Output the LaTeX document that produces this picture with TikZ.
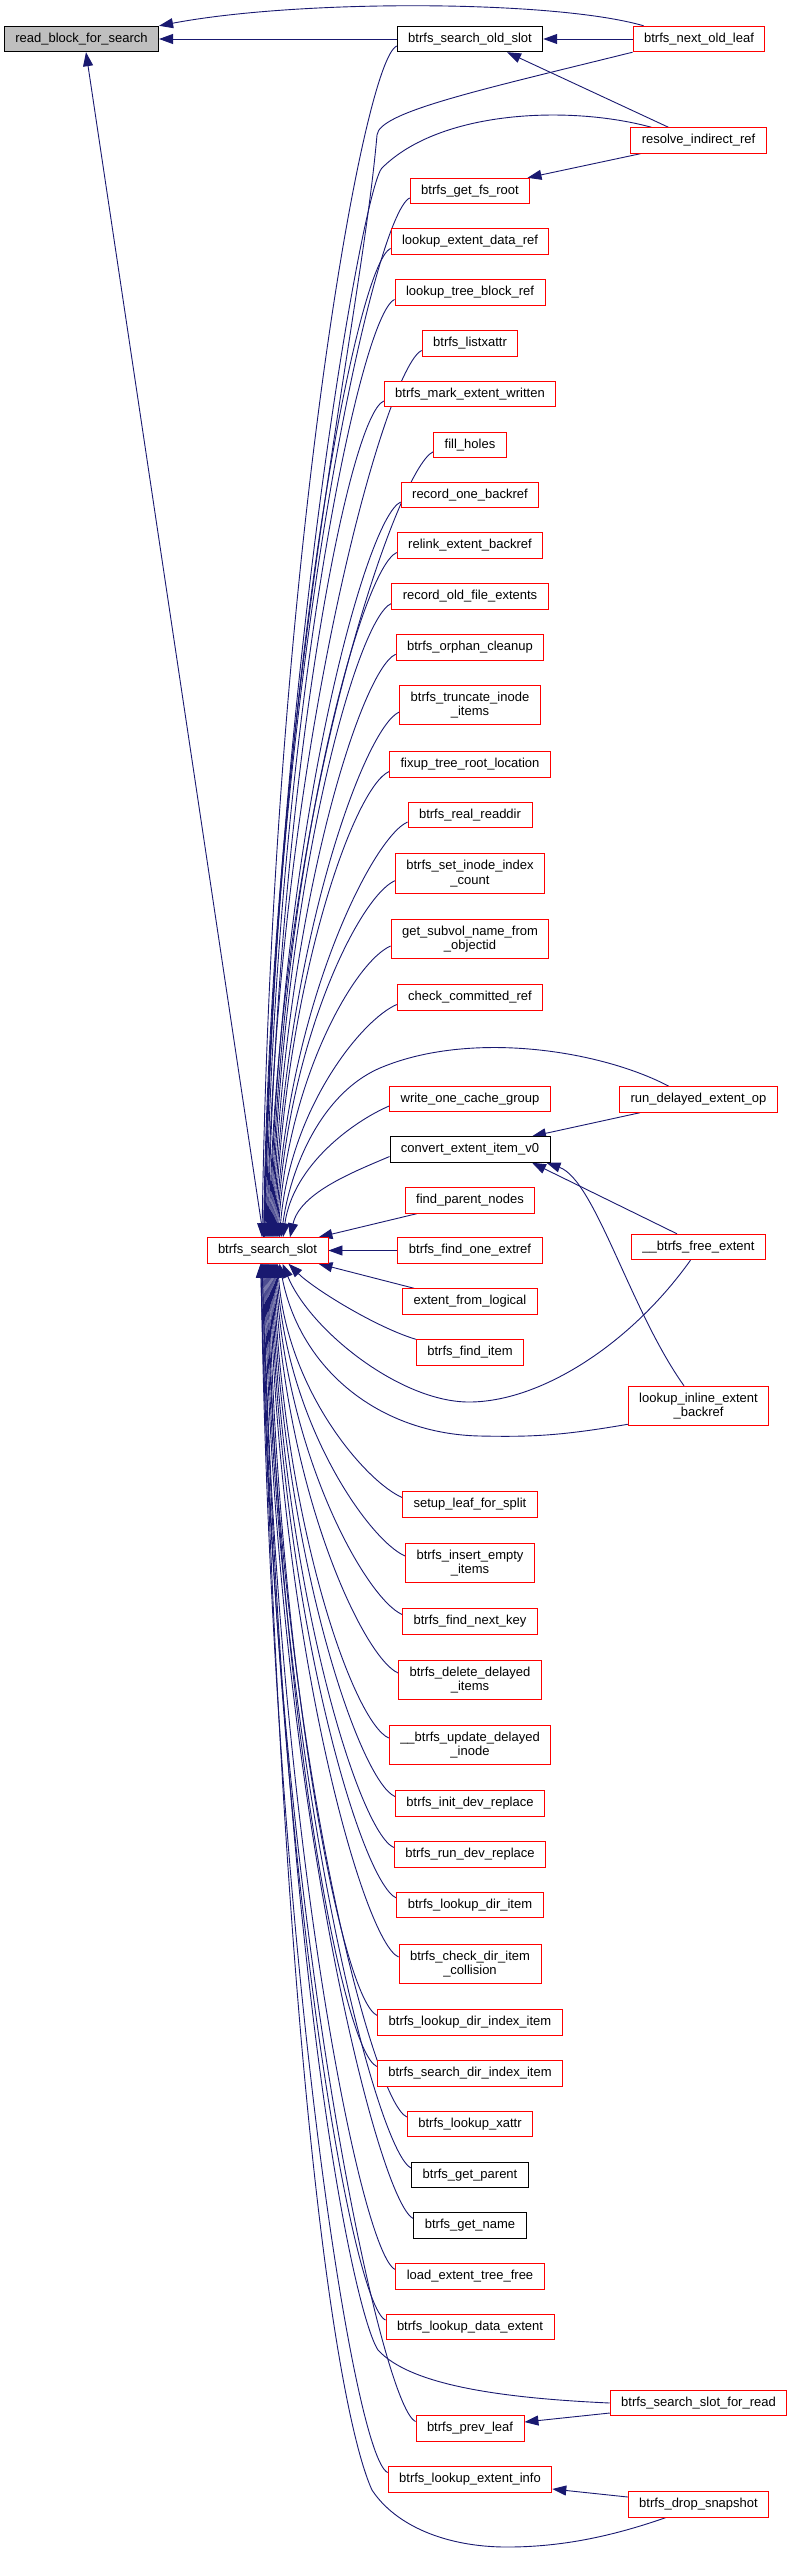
\documentclass[tikz,border=0pt]{standalone}
\usepackage{fontspec}
\setmainfont{Liberation Sans}
\usepackage{tikz}
\usetikzlibrary{arrows.meta,backgrounds}
\definecolor{edgeblue}{RGB}{25,25,112}
\definecolor{fnred}{RGB}{255,0,0}
\definecolor{fngray}{RGB}{191,191,191}

\begin{document}
\begin{tikzpicture}[
    x=1pt,y=-1pt,
    font=\fontsize{13}{14.6}\selectfont,
    >={Triangle[length=14pt,width=10pt]},
    call/.style={->,draw=edgeblue,line width=0.9pt},
    fn/.style={draw=fnred,fill=white,line width=0.9pt,inner xsep=11pt,
      inner ysep=6.5pt,minimum height=25.5pt,align=center},
    fndoc/.style={fn,draw=black},
    fnroot/.style={fn,draw=black,fill=fngray}
  ]
    \useasboundingbox (0,0) rectangle (792,2553);

    \node[fnroot] (rbfs) at (81.5,39) {read\_block\_for\_search};
    \node[fn] (bss) at (267.5,1250.5) {btrfs\_search\_slot};

    \node[fndoc] (sos) at (470,39) {btrfs\_search\_old\_slot};
    \node[fn] (gfr) at (470,191) {btrfs\_get\_fs\_root};
    \node[fn] (ledr) at (470,241.5) {lookup\_extent\_data\_ref};
    \node[fn] (ltbr) at (470,292.5) {lookup\_tree\_block\_ref};
    \node[fn] (lxa) at (470,343.5) {btrfs\_listxattr};
    \node[fn] (mew) at (470,394) {btrfs\_mark\_extent\_written};
    \node[fn] (fh) at (470,444.7) {fill\_holes};
    \node[fn] (rob) at (470,495) {record\_one\_backref};
    \node[fn] (reb) at (470,545.5) {relink\_extent\_backref};
    \node[fn] (rofe) at (470,596.5) {record\_old\_file\_extents};
    \node[fn] (oc) at (470,647.3) {btrfs\_orphan\_cleanup};
    \node[fn] (tii) at (470,705) {btrfs\_truncate\_inode\\\_items};
    \node[fn] (ftrl) at (470,764.5) {fixup\_tree\_root\_location};
    \node[fn] (rrd) at (470,815) {btrfs\_real\_readdir};
    \node[fn] (siic) at (470,873.7) {btrfs\_set\_inode\_index\\\_count};
    \node[fn] (gsno) at (470,939) {get\_subvol\_name\_from\\\_objectid};
    \node[fn] (ccr) at (470,997.5) {check\_committed\_ref};
    \node[fn] (wocg) at (470,1099) {write\_one\_cache\_group};
    \node[fndoc] (ceiv) at (470,1149.5) {convert\_extent\_item\_v0};
    \node[fn] (fpn) at (470,1200.5) {find\_parent\_nodes};
    \node[fn] (foe) at (470,1250.5) {btrfs\_find\_one\_extref};
    \node[fn] (efl) at (470,1301.5) {extent\_from\_logical};
    \node[fn] (fi) at (470,1352.5) {btrfs\_find\_item};
    \node[fn] (slfs) at (470,1504.5) {setup\_leaf\_for\_split};
    \node[fn] (iei) at (470,1563) {btrfs\_insert\_empty\\\_items};
    \node[fn] (fnk) at (470,1621.5) {btrfs\_find\_next\_key};
    \node[fn] (ddi) at (470,1680) {btrfs\_delete\_delayed\\\_items};
    \node[fn] (udi) at (470,1745) {\_\_btrfs\_update\_delayed\\\_inode};
    \node[fn] (idr) at (470,1803.5) {btrfs\_init\_dev\_replace};
    \node[fn] (rdr) at (470,1854.5) {btrfs\_run\_dev\_replace};
    \node[fn] (ldi) at (470,1905) {btrfs\_lookup\_dir\_item};
    \node[fn] (cdic) at (470,1964) {btrfs\_check\_dir\_item\\\_collision};
    \node[fn] (ldii) at (470,2022.5) {btrfs\_lookup\_dir\_index\_item};
    \node[fn] (sdii) at (470,2073.5) {btrfs\_search\_dir\_index\_item};
    \node[fn] (lxt) at (470,2124) {btrfs\_lookup\_xattr};
    \node[fndoc] (gp) at (470,2175) {btrfs\_get\_parent};
    \node[fndoc] (gn) at (470,2225.5) {btrfs\_get\_name};
    \node[fn] (letf) at (470,2276.5) {load\_extent\_tree\_free};
    \node[fn] (lde) at (470,2327) {btrfs\_lookup\_data\_extent};
    \node[fn] (pl) at (470,2428.5) {btrfs\_prev\_leaf};
    \node[fn] (lei) at (470,2479.5) {btrfs\_lookup\_extent\_info};

    \node[fn] (nol) at (699,39) {btrfs\_next\_old\_leaf};
    \node[fn] (rir) at (698.5,140.5) {resolve\_indirect\_ref};
    \node[fn] (rdeo) at (698.5,1099.5) {run\_delayed\_extent\_op};
    \node[fn] (bfe) at (698.5,1247) {\_\_btrfs\_free\_extent};
    \node[fn] (lieb) at (698.5,1406) {lookup\_inline\_extent\\\_backref};
    \node[fn] (ssfr) at (698.5,2403) {btrfs\_search\_slot\_for\_read};
    \node[fn] (ds) at (698.5,2504.5) {btrfs\_drop\_snapshot};

    \begin{scope}[on background layer]
    \draw[call] (sos.west) -- (rbfs.east);
    \draw[call] (nol.west) -- (sos.east);
    \draw[call] ([xshift=11pt]nol.north west) .. controls (555,0) and (300,-1) .. (rbfs.north east);
    \draw[call] ([xshift=-4pt]bss.north) -- ([xshift=4.5pt]rbfs.south);
    \draw[call] ([xshift=-30pt]rir.north) -- ([xshift=37pt]sos.south);
    \draw[call] ([xshift=-58pt]rir.south) -- ([xshift=57.5pt]gfr.north);
    \draw[call] ([xshift=-58.5pt]rdeo.south) -- ([xshift=62pt]ceiv.north);
    \draw[call] ([xshift=-21.5pt]bfe.north) -- ([xshift=62pt]ceiv.south);
    \draw[call] ([xshift=-14.5pt]lieb.north) .. controls (630,1310) and (595,1180) .. ([xshift=-4pt]ceiv.south east);
    \draw[call] ([yshift=-10pt]ssfr.west) -- ([yshift=6.5pt]pl.east);
    \draw[call] ([yshift=7.5pt]ds.west) -- ([yshift=-9.5pt]lei.east);

    \foreach \fname/\fy/\fdx in {sos/39/-5.5,gfr/191/-3.5,ledr/241.5/-2.5,
        ltbr/292.5/-1.5,lxa/343.5/-0.5,mew/394/0.5,fh/444.7/1.5,rob/495/2.5,
        reb/545.5/3.5,rofe/596.5/4.5,oc/647.3/5.5,tii/705/6.5,ftrl/764.5/7.5,
        rrd/815/8.5,siic/873.7/9.5,gsno/939/10.5,ccr/997.5/12,
        wocg/1099/15.5,ceiv/1149.5/22.5}
      \draw[call] ([yshift=-7pt]\fname.west) .. controls +(-35,15)
        and +(10,{-0.55*(1231-\fy)}) .. ([xshift=\fdx pt]bss.north);

    \foreach \fname/\fy/\fdx in {slfs/1504.5/10,iei/1563/9,fnk/1621.5/8,
        ddi/1680/7,udi/1745/6,idr/1803.5/5,rdr/1854.5/4,ldi/1905/3,
        cdic/1964/2,ldii/2022.5/1,sdii/2073.5/0,lxt/2124/-1,gp/2175/-2,
        gn/2225.5/-3,letf/2276.5/-4,lde/2327/-5,pl/2428.5/-6,lei/2479.5/-6.5}
      \draw[call] ([yshift=7pt]\fname.west) .. controls +(-35,-15)
        and +(10,{0.55*(\fy-1270)}) .. ([xshift=\fdx pt]bss.south);

    \draw[call] ([xshift=12pt]fpn.south west) -- ([xshift=-10pt]bss.north east);
    \draw[call] (foe.west) -- (bss.east);
    \draw[call] ([xshift=12pt]efl.north west) -- ([xshift=-10pt]bss.south east);
    \draw[call] (fi.north west) .. controls +(-40,-12) and +(25,25) .. ([xshift=21pt]bss.south);

    \draw[call] (nol.south west) .. controls (480,90) and (379,112) .. (377,135)
      .. controls (360,330) and (272,700) .. ([xshift=-4pt]bss.north);
    \draw[call] ([xshift=-47pt]rir.north) .. controls (570,105) and (440,110) .. (382,168)
      .. controls (362,188) and (274,700) .. ([xshift=-3pt]bss.north);
    \draw[call] ([xshift=-29.5pt]rdeo.north) .. controls (600,1050) and (470,1030) .. (380,1068)
      .. controls (320,1094) and (290,1170) .. ([xshift=13.5pt]bss.north);
    \draw[call] ([xshift=-8pt]bfe.south) .. controls (630,1345) and (540,1402) .. (469,1402)
      .. controls (400,1402) and (310,1330) .. ([xshift=15pt]bss.south);
    \draw[call] ([yshift=2pt]lieb.south west) .. controls (560,1436) and (530,1437) .. (480,1436)
      .. controls (380,1434) and (300,1370) .. ([xshift=12pt]bss.south);
    \draw[call] (ssfr.west) .. controls (500,2398) and (410,2385) .. (378,2350)
      .. controls (355,2315) and (285,2000) .. ([xshift=-5.5pt]bss.south);
    \draw[call] ([xshift=-33pt]ds.south) .. controls (610,2537) and (560,2547) .. (507,2547)
      .. controls (445,2547) and (395,2525) .. (372,2490)
      .. controls (340,2420) and (285,2100) .. ([xshift=-7pt]bss.south);
    \end{scope}
\end{tikzpicture}
\end{document}
